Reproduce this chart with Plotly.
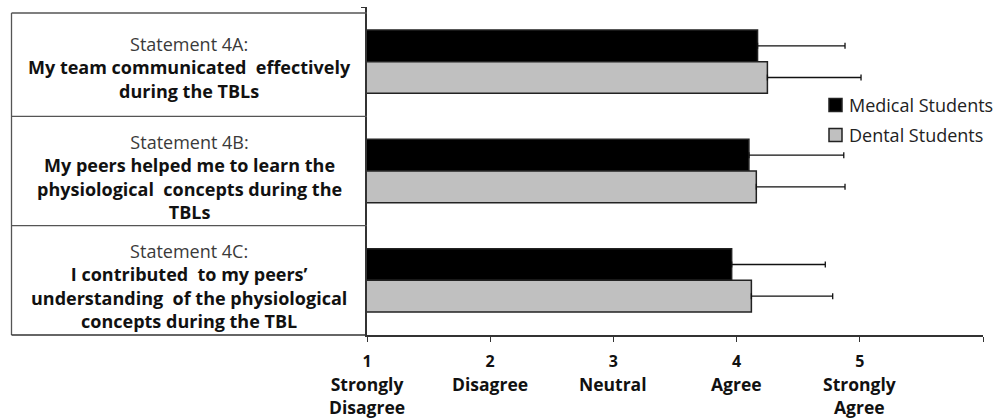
import plotly.graph_objects as go

# Survey statements (one band per statement, top to bottom)
statements = ["4A", "4B", "4C"]
statement_titles = ["Statement 4A:", "Statement 4B:", "Statement 4C:"]
statement_lines = [
    ["My team communicated  effectively", "during the TBLs"],
    ["My peers helped me to learn the", "physiological  concepts during the", "TBLs"],
    ["I contributed  to my peers’", "understanding  of the physiological", "concepts during the TBL"],
]

# Mean Likert scores and standard deviations
medical_mean = [4.17, 4.10, 3.96]
medical_sd = [0.71, 0.77, 0.76]
dental_mean = [4.25, 4.16, 4.12]
dental_sd = [0.76, 0.72, 0.66]

# Likert scale ticks
scale_values = [1, 2, 3, 4, 5, 6]
scale_numbers = ["1", "2", "3", "4", "5", ""]
scale_words = [["Strongly", "Disagree"], ["Disagree"], ["Neutral"], ["Agree"], ["Strongly", "Agree"]]

series_names = ["Medical Students", "Dental Students"]
series_colors = ["#000000", "#c0c0c0"]

FONT = "Open Sans"
LINE = "#333333"
BOX = "#555555"

fig = go.Figure()
for name, color, mean, sd in zip(series_names, series_colors,
                                 [medical_mean, dental_mean], [medical_sd, dental_sd]):
    fig.add_trace(go.Bar(
        name=name, y=statements, x=mean, orientation="h",
        marker=dict(color=color, line=dict(color="#222222", width=1.5)),
        error_x=dict(type="data", array=sd, arrayminus=[0] * len(sd),
                     symmetric=False, color="#111111", thickness=1.3, width=3),
        showlegend=False,
    ))

# Plot area geometry in pixels, used to place the statement box and key
L, R, T, B = 367, 17, 7, 84
W, H = 1000, 419
pw = W - L - R
ph = H - T - B

def px_to_paper_x(px):
    return (px - L) / pw

def px_to_paper_y(py):
    return 1 - (py - T) / ph

box_left = px_to_paper_x(11.5)
box_top = px_to_paper_y(13)
box_center = px_to_paper_x(189)

shapes = [
    dict(type="line", xref="paper", yref="paper", x0=box_left, x1=box_left, y0=0, y1=box_top,
         line=dict(color=BOX, width=1.3)),
    dict(type="line", xref="paper", yref="paper", x0=box_left, x1=0, y0=box_top, y1=box_top,
         line=dict(color=BOX, width=1.3)),
    dict(type="line", xref="paper", yref="paper", x0=box_left, x1=0, y0=0, y1=0,
         line=dict(color=LINE, width=1.5)),
]
for b in [0.5, 1.5]:
    shapes.append(dict(type="line", xref="paper", yref="y", x0=box_left, x1=0, y0=b, y1=b,
                       line=dict(color=BOX, width=1.3)))

annotations = []
for i, (title, lines) in enumerate(zip(statement_titles, statement_lines)):
    text = ('<span style="color:#3a3a3a">' + title + "</span><br>"
            + "<br>".join("<b>" + ln + "</b>" for ln in lines))
    annotations.append(dict(
        xref="paper", yref="y", x=box_center, y=statements[i], text=text,
        showarrow=False, xanchor="center", yanchor="middle", align="center",
        yshift=-5.5, font=dict(family=FONT, size=18, color="#111111"),
    ))

for v, words in zip(scale_values, scale_words):
    annotations.append(dict(
        xref="x", yref="paper", x=v, y=0,
        text="<br>".join("<b>" + w + "</b>" for w in words),
        showarrow=False, xanchor="center", yanchor="top", align="center",
        yshift=-35, font=dict(family=FONT, size=17.5, color="#111111"),
    ))

# Key: filled squares with series names
for k, (name, color) in enumerate(zip(series_names, series_colors)):
    yc = 105 + 30 * k
    shapes.append(dict(type="rect", xref="paper", yref="paper",
                       x0=px_to_paper_x(829), x1=px_to_paper_x(842),
                       y0=px_to_paper_y(yc - 6.5), y1=px_to_paper_y(yc + 6.5),
                       fillcolor=color, line=dict(color="#222222", width=1.5)))
    annotations.append(dict(
        xref="paper", yref="paper", x=px_to_paper_x(847), y=px_to_paper_y(yc),
        text=name, showarrow=False, xanchor="left", yanchor="middle",
        font=dict(family=FONT, size=18, color="#222222"),
    ))

fig.update_layout(
    width=W, height=H,
    margin=dict(l=L, r=R, t=T, b=B, autoexpand=False),
    paper_bgcolor="white", plot_bgcolor="white",
    barmode="group", bargap=0.42, bargroupgap=0,
    font=dict(family=FONT, size=16, color="#111111"),
    showlegend=False,
    xaxis=dict(range=[1, 6], tickvals=scale_values,
               ticktext=["<b>" + t + "</b>" for t in scale_numbers],
               ticks="outside", ticklen=5, tickcolor=LINE, tickwidth=1.3,
               showline=True, linecolor=LINE, linewidth=1.5,
               showgrid=False, zeroline=False, ticklabelstandoff=6,
               tickfont=dict(family=FONT, size=16, color="#111111")),
    yaxis=dict(type="category", categoryorder="array", categoryarray=statements,
               range=[2.5, -0.5], showticklabels=False,
               ticks="outside", tickson="boundaries", ticklen=4, tickcolor=LINE,
               showline=True, linecolor=LINE, linewidth=1.5, showgrid=False),
    shapes=shapes,
    annotations=annotations,
)

fig.write_html("out.html")
